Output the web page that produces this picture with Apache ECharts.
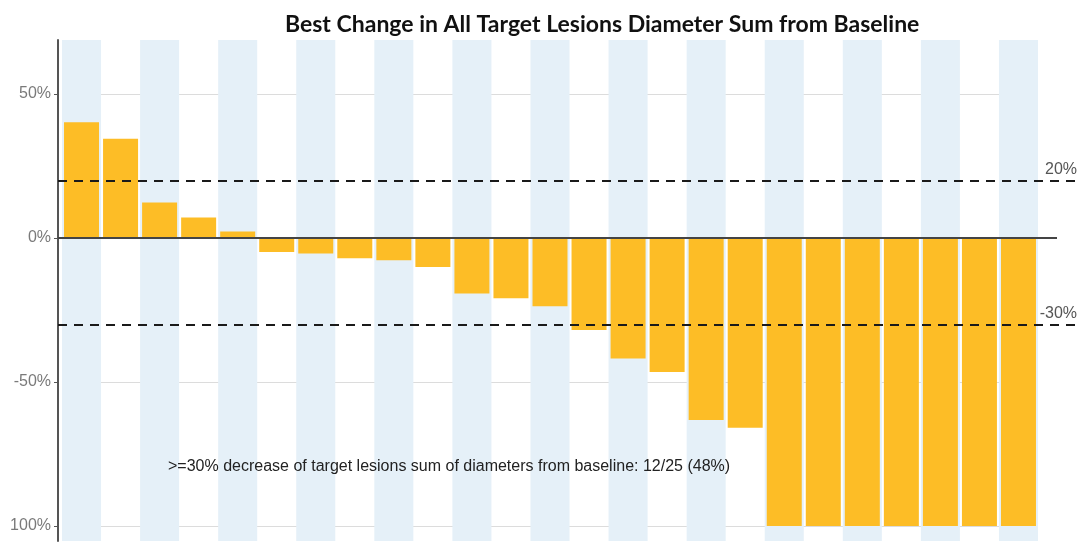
<!DOCTYPE html>
<html>
<head>
<meta charset="utf-8">
<script src="https://cdn.jsdelivr.net/npm/echarts@6/dist/echarts.min.js"></script>
<style>html,body{margin:0;padding:0;background:#fff;}#chart{width:1087px;height:551px;}</style>
</head>
<body>
<div id="chart"></div>
<script>
const categories = ["P01","P02","P03","P04","P05","P06","P07","P08","P09","P10","P11","P12","P13","P14","P15","P16","P17","P18","P19","P20","P21","P22","P23","P24","P25"];
const bestChange = [40.2, 34.5, 12.3, 7.1, 2.3, -4.9, -5.4, -7.0, -7.7, -10.1, -19.3, -20.9, -23.7, -31.9, -41.8, -46.5, -63.2, -65.9, -100, -100, -100, -100, -100, -100, -100];
const yTickValues = [-100, -50, 0, 50];
const yTickLabels = ["100%", "-50%", "0%", "50%"];
const thresholds = [20, -30];
const thresholdLabels = ["20%", "-30%"];
const titleText = "Best Change in All Target Lesions Diameter Sum from Baseline";
const noteText = ">=30% decrease of target lesions sum of diameters from baseline: 12/25 (48%)";

const Y_MIN = -105.2, Y_MAX = 68.75;

const chart = echarts.init(document.getElementById('chart'), null, {renderer: 'canvas'});
chart.setOption({
  animation: false,
  backgroundColor: '#ffffff',
  title: {
    text: titleText,
    left: 280, top: 8,
    textStyle: {fontFamily: 'Lato', fontWeight: 'bold', fontSize: 23, color: '#111'}
  },
  grid: [
    {left: 62, right: 49, top: 40, bottom: 10},
    {left: 58, right: 7, top: 40, bottom: 10}
  ],
  xAxis: [
    {
      type: 'category', gridIndex: 0, data: categories,
      axisLine: {show: false}, axisTick: {show: false}, axisLabel: {show: false},
      splitArea: {show: true, interval: 0, areaStyle: {color: ['#E5F0F8', 'rgba(255,255,255,0)']}}
    },
    {type: 'value', gridIndex: 1, min: 0, max: 1, show: false}
  ],
  yAxis: [
    {
      type: 'value', gridIndex: 0, min: Y_MIN, max: Y_MAX, offset: 4,
      axisLine: {show: true, lineStyle: {color: '#555', width: 2}},
      axisTick: {show: true, length: 4, customValues: yTickValues, lineStyle: {color: '#555'}},
      axisLabel: {
        customValues: yTickValues, margin: 7, fontSize: 16, color: '#7a7a7a', fontFamily: 'Liberation Sans',
        formatter: v => yTickLabels[yTickValues.indexOf(v)]
      },
      splitLine: {show: true, lineStyle: {color: '#dcdcdc', width: 1}}
    },
    {type: 'value', gridIndex: 1, min: Y_MIN, max: Y_MAX, show: false}
  ],
  graphic: [{
    type: 'text', left: 168, top: 459, z: 100,
    style: {text: noteText, fontSize: 16, fontFamily: 'Liberation Sans', fill: '#222'}
  }],
  series: [
    {
      type: 'bar', xAxisIndex: 0, yAxisIndex: 0, data: bestChange,
      barWidth: 35,
      itemStyle: {color: '#FDBD26'}
    },
    {
      type: 'line', xAxisIndex: 1, yAxisIndex: 1, data: [[0, 0]],
      showSymbol: false, symbol: 'none', lineStyle: {width: 0, opacity: 0},
      silent: true, z: 5,
      markLine: {
        silent: true, symbol: 'none',
        data: [
          [{coord: [0, 0], lineStyle: {type: 'solid', color: '#444', width: 2}, label: {show: false}},
           {coord: [0.9775, 0]}],
          ...thresholds.map((t, i) => ({
            yAxis: t,
            lineStyle: {type: [9, 7], color: '#1a1a1a', width: 2},
            label: {show: true, position: 'insideEndTop', formatter: thresholdLabels[i], fontSize: 16, color: '#555', fontFamily: 'Liberation Sans', distance: 3}
          }))
        ]
      }
    }
  ]
});
</script>
</body>
</html>
